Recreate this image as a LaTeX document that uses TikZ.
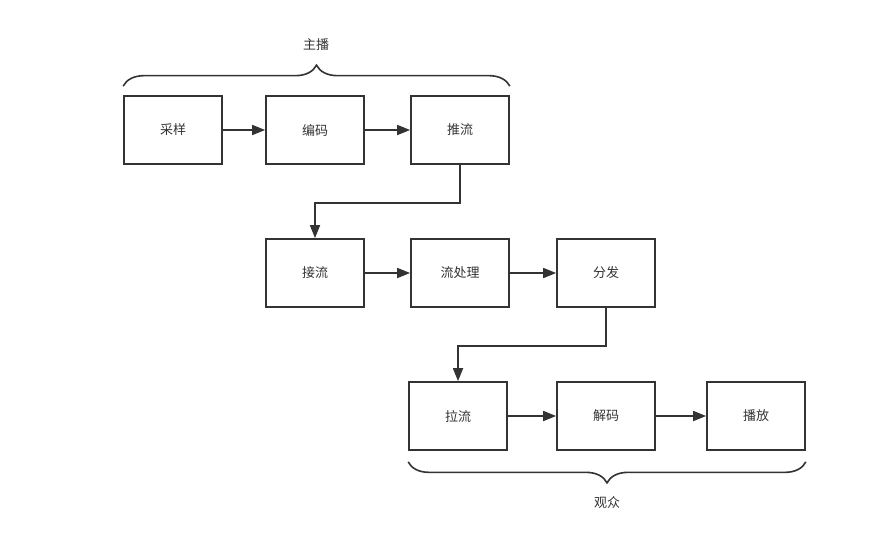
\documentclass[tikz,border=0pt]{standalone}
\usepackage{fontspec}
\newfontfamily\cjk{Noto Sans CJK SC}
\usetikzlibrary{positioning, arrows.meta, decorations.pathreplacing}
\definecolor{lineg}{HTML}{333333}
\definecolor{textg}{HTML}{333333}

\tikzset{
  stage/.style={draw=lineg, line width=1.7pt, fill=white, text=textg,
    minimum width=98pt, minimum height=68pt, font=\cjk\fontsize{13}{15}\selectfont},
  flow/.style={draw=lineg, line width=1.7pt, -{Triangle[length=13pt,width=10pt]}},
  grp/.style={draw=lineg, line width=1.6pt, decorate,
    decoration={brace, amplitude=21pt}},
  grplabel/.style={text=textg, font=\cjk\fontsize{13}{15}\selectfont}
}

\begin{document}
\begin{tikzpicture}[x=1pt, y=-1pt]
    \useasboundingbox (0,0) rectangle (893,533);

    % anchor side
    \node[stage] (cy) at (173,130) {采样};
    \node[stage] (bm) at (315,130) {编码};
    \node[stage] (tl) at (460,130) {推流};

    % server side
    \node[stage] (jl) at (315,273) {接流};
    \node[stage] (lcl) at (460,273) {流处理};
    \node[stage] (ff) at (606,273) {分发};

    % audience side
    \node[stage] (ll) at (458,416) {拉流};
    \node[stage] (jm) at (606,416) {解码};
    \node[stage] (bf) at (756,416) {播放};

    \draw[flow] (cy) -- (bm);
    \draw[flow] (bm) -- (tl);
    \draw[flow] (tl.south) -- ++(0,38) -| (jl.north);
    \draw[flow] (jl) -- (lcl);
    \draw[flow] (lcl) -- (ff);
    \draw[flow] (ff.south) -- ++(0,38) -| (ll.north);
    \draw[flow] (ll) -- (jm);
    \draw[flow] (jm) -- (bf);

    % groups
    \draw[grp] ([yshift=9pt]cy.north west) -- ([yshift=9pt]tl.north east);
    \node[grplabel] (zb) at (316,45) {主播};
    \draw[grp] ([yshift=-11pt]bf.south east) -- ([yshift=-11pt]ll.south west);
    \node[grplabel] (gz) at (607,503) {观众};
  \end{tikzpicture}
\end{document}
